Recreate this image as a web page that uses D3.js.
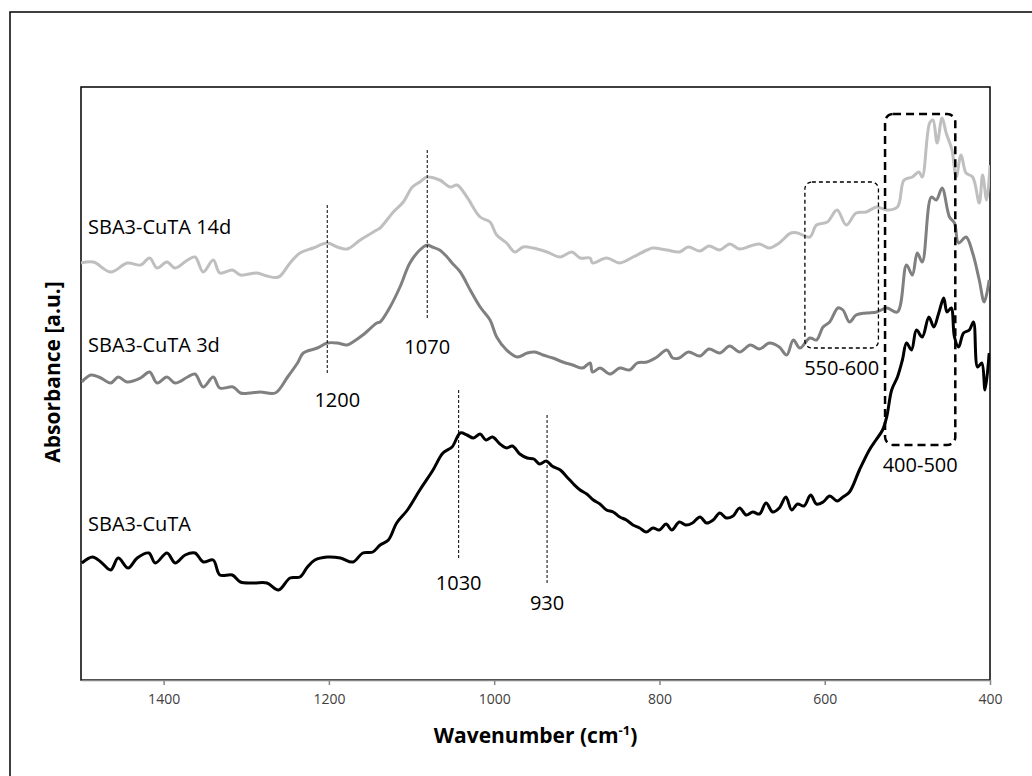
<!DOCTYPE html>
<html lang="en">
<head>
<meta charset="UTF-8">
<title>FTIR spectra SBA3-CuTA</title>
<script src="https://d3js.org/d3.v7.min.js"></script>
<style>
  body { margin: 0; background: #fff; }
  svg text { font-family: "Open Sans", "Noto Sans", sans-serif; }
  .tick text { fill: #404040; font-size: 14px; }
  .lbl { font-size: 20px; fill: #000; }
</style>
</head>
<body>
<svg id="chart" width="1032" height="776"></svg>
<script>
// x ticks (wavenumber, cm-1)
const xTicks = [1400, 1200, 1000, 800, 600, 400];

// SBA3-CuTA 14d (light grey)
const wn14d = [1500,1485,1464,1444,1428,1417,1408,1396,1386,1371,1362,1352,1340,1332,1317,1307,1287,1275,1261,1247,1235,1219,1202,1190,1178,1162,1142,1138,1122,1110,1099,1090,1081,1066,1053,1045,1033,1017,1005,997,985,975,965,953,936,920,906,896,884,881,864,848,832,815,808,791,776,765,751,740,727,715,703,690,679,667,655,641,633,618,610,597,585,574,562,550,537,525,512,504,494,486,482,473,469,464,458,453,446,441,435,429,421,413,409,404,400];
const abs14d = [0.417,0.418,0.408,0.417,0.415,0.422,0.412,0.418,0.412,0.420,0.423,0.408,0.420,0.407,0.410,0.405,0.407,0.404,0.403,0.417,0.427,0.432,0.437,0.433,0.431,0.440,0.450,0.452,0.468,0.478,0.493,0.498,0.503,0.500,0.493,0.495,0.483,0.463,0.458,0.445,0.437,0.428,0.433,0.432,0.428,0.423,0.428,0.422,0.422,0.417,0.422,0.417,0.423,0.430,0.432,0.430,0.428,0.433,0.429,0.434,0.430,0.436,0.431,0.434,0.436,0.432,0.437,0.447,0.447,0.443,0.455,0.458,0.470,0.455,0.467,0.468,0.473,0.470,0.473,0.500,0.503,0.508,0.503,0.557,0.560,0.537,0.562,0.547,0.530,0.503,0.525,0.507,0.503,0.477,0.505,0.480,0.515];

// SBA3-CuTA 3d (dark grey)
const wn3d = [1499,1488,1476,1464,1455,1444,1428,1417,1408,1396,1386,1371,1362,1352,1340,1332,1316,1307,1295,1283,1265,1250,1238,1231,1214,1202,1190,1178,1171,1159,1142,1138,1126,1114,1102,1090,1081,1075,1066,1057,1051,1041,1029,1017,1005,997,985,972,960,951,941,929,917,905,893,884,881,872,860,848,836,827,815,803,791,784,776,765,751,740,727,715,703,690,679,667,655,646,638,630,618,610,602,594,584,578,570,562,550,537,525,512,501,494,488,482,471,465,458,449,443,438,429,421,413,407,401];
const abs3d = [0.298,0.305,0.302,0.297,0.303,0.298,0.302,0.308,0.297,0.303,0.297,0.303,0.306,0.293,0.303,0.292,0.293,0.287,0.287,0.288,0.287,0.303,0.317,0.327,0.332,0.337,0.337,0.335,0.338,0.345,0.357,0.358,0.373,0.393,0.417,0.430,0.435,0.433,0.430,0.423,0.417,0.408,0.390,0.373,0.360,0.343,0.330,0.323,0.327,0.328,0.325,0.322,0.318,0.315,0.312,0.317,0.308,0.312,0.306,0.312,0.310,0.317,0.318,0.323,0.330,0.322,0.322,0.328,0.324,0.331,0.327,0.334,0.328,0.335,0.331,0.337,0.333,0.325,0.340,0.332,0.342,0.340,0.353,0.358,0.372,0.370,0.358,0.365,0.367,0.368,0.372,0.368,0.415,0.405,0.427,0.418,0.483,0.480,0.492,0.463,0.457,0.437,0.443,0.427,0.400,0.378,0.400];

// SBA3-CuTA (black)
const wnRef = [1499,1486,1476,1464,1455,1443,1432,1418,1410,1396,1386,1374,1362,1352,1340,1332,1317,1307,1291,1275,1261,1247,1235,1226,1217,1202,1186,1171,1159,1147,1138,1128,1118,1105,1090,1074,1062,1051,1041,1033,1025,1017,1010,1002,993,985,978,969,960,952,945,937,930,920,912,904,896,888,880,872,864,856,848,840,832,824,816,808,800,792,785,776,768,760,751,743,735,727,719,711,703,695,687,679,671,663,655,647,640,633,625,617,610,602,594,585,578,570,558,546,538,530,525,519,512,506,501,495,489,482,474,468,462,456,452,447,443,438,432,425,420,415,410,406,401];
const absRef = [0.117,0.123,0.118,0.110,0.122,0.112,0.122,0.127,0.117,0.127,0.117,0.125,0.127,0.118,0.120,0.105,0.105,0.098,0.097,0.097,0.090,0.102,0.103,0.113,0.120,0.123,0.122,0.118,0.127,0.128,0.135,0.140,0.157,0.170,0.190,0.210,0.227,0.233,0.247,0.245,0.242,0.246,0.240,0.243,0.236,0.232,0.234,0.226,0.222,0.221,0.216,0.219,0.214,0.210,0.203,0.196,0.190,0.186,0.180,0.176,0.170,0.168,0.163,0.160,0.155,0.152,0.148,0.152,0.150,0.156,0.150,0.158,0.155,0.157,0.163,0.157,0.160,0.167,0.162,0.164,0.172,0.165,0.168,0.166,0.177,0.168,0.172,0.183,0.170,0.176,0.174,0.185,0.176,0.178,0.184,0.179,0.183,0.188,0.210,0.230,0.240,0.250,0.263,0.290,0.303,0.320,0.337,0.330,0.350,0.343,0.363,0.353,0.367,0.382,0.368,0.372,0.343,0.333,0.347,0.350,0.358,0.313,0.317,0.290,0.327];

// annotations
const markWn = [1202, 1081, 1043, 936];
const markText = ["1200", "1070", "1030", "930"];
const markTop = [0.475, 0.530, 0.290, 0.265];
const markBottom = [0.307, 0.362, 0.122, 0.097];
const markLabelY = [0.273, 0.326, 0.090, 0.070];

const boxWn = [[624, 535], [527, 442]];
const boxAbs = [[0.498, 0.332], [0.566, 0.235]];
const boxText = ["550-600", "400-500"];

const seriesNames = ["SBA3-CuTA 14d", "SBA3-CuTA 3d", "SBA3-CuTA"];
const seriesColors = ["#bfbfbf", "#808080", "#000000"];

const svg = d3.select("#chart");
const margin = { left: 81, top: 87, right: 990, bottom: 680 };

// outer frame
svg.append("rect")
  .attr("x", 10).attr("y", 12)
  .attr("width", 1040).attr("height", 780)
  .attr("fill", "none").attr("stroke", "#000").attr("stroke-width", 1.5);

const x = d3.scaleLinear().domain([1500, 400]).range([margin.left, margin.right]);
const y = d3.scaleLinear().domain([0, 0.6]).range([margin.bottom, margin.bottom - 600]);

// plot area border
svg.append("rect")
  .attr("x", margin.left).attr("y", margin.top)
  .attr("width", margin.right - margin.left).attr("height", margin.bottom - margin.top)
  .attr("fill", "none").attr("stroke", "#000").attr("stroke-width", 1.5);

svg.append("clipPath").attr("id", "clip")
  .append("rect")
  .attr("x", margin.left).attr("y", margin.top)
  .attr("width", margin.right - margin.left).attr("height", margin.bottom - margin.top);

// x axis
const xAxis = svg.append("g")
  .attr("transform", `translate(0,${margin.bottom})`)
  .call(d3.axisBottom(x).tickValues(xTicks).tickFormat(d3.format("d"))
    .tickSize(5).tickPadding(9).tickSizeOuter(0));
xAxis.select(".domain").attr("stroke", "#868686").attr("stroke-width", 1.5);
xAxis.selectAll(".tick line").attr("stroke", "#868686").attr("stroke-width", 1.5);

// curves
const line = d3.line()
  .x(d => x(d[0])).y(d => y(d[1]))
  .curve(d3.curveCatmullRom.alpha(0.5));
const allSeries = [
  d3.zip(wn14d, abs14d),
  d3.zip(wn3d, abs3d),
  d3.zip(wnRef, absRef)
];
svg.append("g").attr("clip-path", "url(#clip)")
  .selectAll("path")
  .data(allSeries)
  .join("path")
  .attr("d", line)
  .attr("fill", "none")
  .attr("stroke", (d, i) => seriesColors[i])
  .attr("stroke-width", 3)
  .attr("stroke-linejoin", "round");

// series labels
const seriesLabelAbs = [0.446, 0.328, 0.149];
svg.selectAll(".slbl")
  .data(seriesNames)
  .join("text")
  .attr("class", "lbl")
  .attr("x", 88)
  .attr("y", (d, i) => y(seriesLabelAbs[i]))
  .text(d => d);

// dashed marker lines
markWn.forEach((w, i) => {
  svg.append("line")
    .attr("x1", x(w)).attr("x2", x(w))
    .attr("y1", y(markTop[i])).attr("y2", y(markBottom[i]))
    .attr("stroke", "#000").attr("stroke-width", 1)
    .attr("stroke-dasharray", "3,2");
  svg.append("text").attr("class", "lbl")
    .attr("x", x(w) + (i === 0 ? 10 : 0))
    .attr("y", y(markLabelY[i]))
    .attr("text-anchor", "middle")
    .text(markText[i]);
});

// dashed boxes
boxWn.forEach((b, i) => {
  const x0 = x(b[0]), x1 = x(b[1]), y0 = y(boxAbs[i][0]), y1 = y(boxAbs[i][1]);
  svg.append("rect")
    .attr("x", x0).attr("y", y0)
    .attr("width", x1 - x0).attr("height", y1 - y0)
    .attr("rx", i === 0 ? 7 : 8)
    .attr("fill", "none").attr("stroke", "#000")
    .attr("stroke-width", i === 0 ? 1.3 : 2.5)
    .attr("stroke-dasharray", i === 0 ? "4,3" : "8,5");
  svg.append("text").attr("class", "lbl")
    .attr("x", (x0 + x1) / 2)
    .attr("y", y1 + 27)
    .attr("text-anchor", "middle")
    .text(boxText[i]);
});

// axis titles
const xt = svg.append("text")
  .attr("x", (margin.left + margin.right) / 2)
  .attr("y", 743)
  .attr("text-anchor", "middle")
  .attr("font-size", 21).attr("font-weight", "bold");
xt.append("tspan").text("Wavenumber (cm");
xt.append("tspan").attr("font-size", 13).attr("dy", -8).text("-1");
xt.append("tspan").attr("dy", 8).text(")");

svg.append("text")
  .attr("transform", "translate(52,372) rotate(-90)")
  .attr("text-anchor", "middle")
  .attr("dominant-baseline", "central")
  .attr("font-size", 21).attr("font-weight", "bold")
  .text("Absorbance [a.u.]");
</script>
</body>
</html>
